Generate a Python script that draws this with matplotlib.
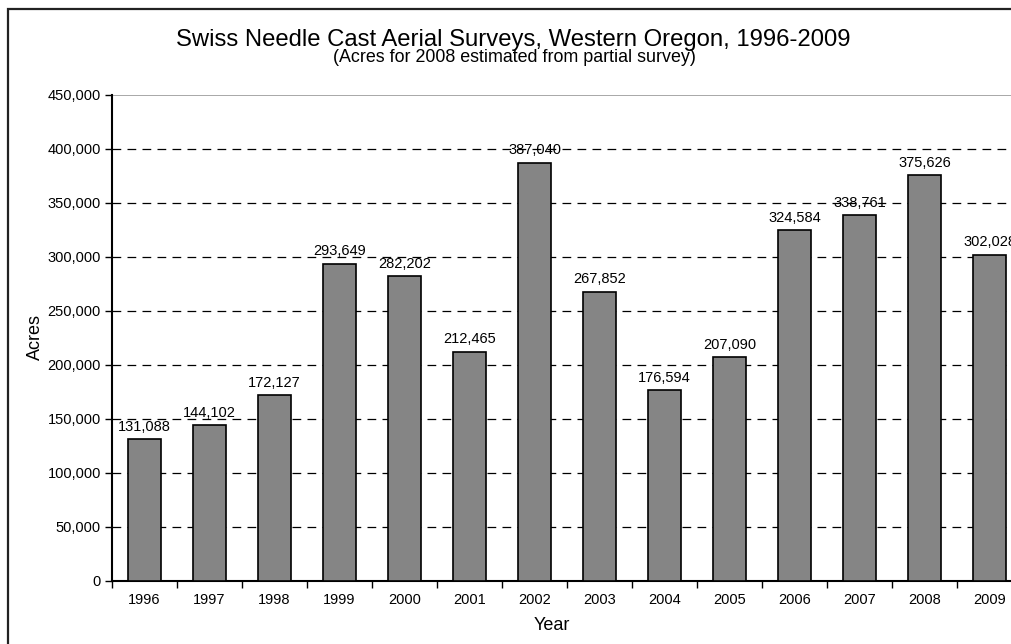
import matplotlib
matplotlib.use("Agg")
import matplotlib.pyplot as plt
from matplotlib.patches import Rectangle
from matplotlib.ticker import FuncFormatter, FixedLocator

plt.rcParams['font.family'] = ['Liberation Sans', 'DejaVu Sans']

years = ["1996", "1997", "1998", "1999", "2000", "2001", "2002",
         "2003", "2004", "2005", "2006", "2007", "2008", "2009"]
acres = [131088, 144102, 172127, 293649, 282202, 212465, 387040,
         267852, 176594, 207090, 324584, 338761, 375626, 302028]
y_ticks = [0, 50000, 100000, 150000, 200000, 250000, 300000, 350000, 400000, 450000]

W, H = 1011, 644
fig = plt.figure(figsize=(W / 100, H / 100), dpi=100)

# outer chart frame (clipped on the right/bottom like the reference)
fig.patches.append(Rectangle((8 / W, -0.1), 1.2, 1 - 9 / H + 0.1, transform=fig.transFigure,
                             fill=False, edgecolor='#222222', linewidth=1.6, zorder=0))

left, right, bottom, top = 112 / W, 1022 / W, 1 - 581 / H, 1 - 95 / H
ax = fig.add_axes([left, bottom, right - left, top - bottom])

x = list(range(len(years)))
ax.bar(x, acres, width=0.52, color='#858585', edgecolor='black', linewidth=1.2, zorder=3)

for xi, v in zip(x, acres):
    ax.annotate(f"{v:,}", (xi, v), xytext=(0, 4), textcoords='offset points',
                ha='center', va='bottom', fontsize=10.5, zorder=4)

ax.set_xlim(-0.5, len(years) - 0.5)
ax.set_ylim(0, 450000)
ax.yaxis.set_major_locator(FixedLocator(y_ticks))
ax.yaxis.set_major_formatter(FuncFormatter(lambda v, p: f"{int(v):,}"))
for t in y_ticks[1:-1]:
    ax.axhline(t, color='black', linewidth=0.9, linestyle=(0, (7, 5)), zorder=1)
ax.axhline(450000, color='#999999', linewidth=1.2, zorder=1)

ax.set_xticks([i - 0.5 for i in range(len(years) + 1)])
ax.set_xticklabels([])
ax.set_xticks(x, minor=True)
ax.set_xticklabels(years, minor=True)
ax.tick_params(axis='x', which='minor', length=0, pad=9, labelsize=10.5)
ax.tick_params(axis='x', which='major', length=5, width=1, direction='out')
ax.tick_params(axis='y', length=5, width=1, direction='out', labelsize=10.5, pad=3)

for s in ['top', 'right']:
    ax.spines[s].set_visible(False)
ax.spines['left'].set_linewidth(1.5)
ax.spines['bottom'].set_linewidth(1.5)

fig.text(513 / W, 1 - 40 / H, "Swiss Needle Cast Aerial Surveys, Western Oregon, 1996-2009",
         ha='center', va='center', fontsize=17.2)
fig.text(514 / W, 1 - 58 / H, "(Acres for 2008 estimated from partial survey)",
         ha='center', va='center', fontsize=12.9)
fig.text(552 / W, 1 - 626 / H, "Year", ha='center', va='center', fontsize=13)
fig.text(35 / W, 1 - 337 / H, "Acres", ha='center', va='center', rotation=90, fontsize=13)

fig.savefig("out.png", dpi=100)
